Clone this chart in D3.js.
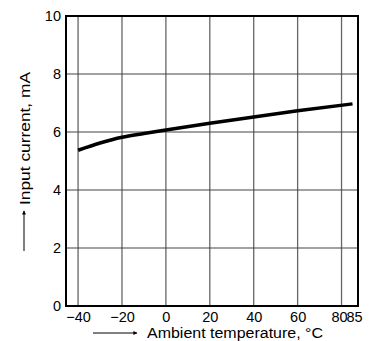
<!DOCTYPE html>
<html>
<head>
<meta charset="utf-8">
<script src="https://cdn.jsdelivr.net/npm/d3@7"></script>
<style>
  body { margin: 0; background: #fff; }
  text { font-family: "Liberation Sans", Arial, sans-serif; }
</style>
</head>
<body>
<div id="vis-container"></div>
<script>
// chart data
const temps = [-40, -30, -20, -10, 0, 20, 40, 60, 85];
const current = [5.37, 5.62, 5.82, 5.95, 6.07, 6.3, 6.52, 6.73, 6.97];
const xTicks = [-40, -20, 0, 20, 40, 60, 80, 85];
const xGrid = [-40, -20, 0, 20, 40, 60, 80];
const yTicks = [0, 2, 4, 6, 8, 10];
const xTitle = "Ambient temperature, °C";
const yTitle = "Input current, mA";

const width = 373;
const height = 341;
const margin = {left: 66, right: 15, top: 16, bottom: 35};

const svg = d3.select("#vis-container")
  .append("svg")
  .attr("width", width)
  .attr("height", height);

const x = d3.scaleLinear()
  .domain([-45.5, 87.5])
  .range([margin.left, width - margin.right]);

const y = d3.scaleLinear()
  .domain([0, 10])
  .range([height - margin.bottom, margin.top]);

// grid lines
svg.append("g")
  .selectAll("line")
  .data(xGrid)
  .join("line")
  .attr("x1", d => x(d)).attr("x2", d => x(d))
  .attr("y1", y(0)).attr("y2", y(10))
  .attr("stroke", "#666")
  .attr("stroke-width", 1.3);

svg.append("g")
  .selectAll("line")
  .data(yTicks.filter(d => d > 0 && d < 10))
  .join("line")
  .attr("x1", x.range()[0]).attr("x2", x.range()[1])
  .attr("y1", d => y(d)).attr("y2", d => y(d))
  .attr("stroke", "#444")
  .attr("stroke-width", 1.1);

// axes (labels only)
const fmt = d => d < 0 ? "\u2212" + Math.abs(d) : String(d);

const gx = svg.append("g")
  .attr("transform", `translate(0,${y(0)})`)
  .call(d3.axisBottom(x).tickValues(xTicks).tickSize(0).tickPadding(6).tickFormat(fmt));
gx.select(".domain").remove();
gx.selectAll("text")
  .attr("font-size", "14.5px")
  .attr("fill", "#000")
  .attr("dx", d => d === 80 ? -2.5 : (d === 85 ? 1.5 : 0));

const gy = svg.append("g")
  .attr("transform", `translate(${x.range()[0]},0)`)
  .call(d3.axisLeft(y).tickValues(yTicks).tickSize(0).tickPadding(5).tickFormat(fmt));
gy.select(".domain").remove();
gy.selectAll("text")
  .attr("font-size", "14.5px")
  .attr("fill", "#000");

// frame
svg.append("rect")
  .attr("x", x.range()[0])
  .attr("y", y(10))
  .attr("width", x.range()[1] - x.range()[0])
  .attr("height", y(0) - y(10))
  .attr("fill", "none")
  .attr("stroke", "#000")
  .attr("stroke-width", 2);

// curve
const pts = temps.map((t, i) => [t, current[i]]);
svg.append("path")
  .datum(pts)
  .attr("fill", "none")
  .attr("stroke", "#000")
  .attr("stroke-width", 3.5)
  .attr("d", d3.line()
    .x(d => x(d[0]))
    .y(d => y(d[1]))
    .curve(d3.curveMonotoneX));

// arrow marker
svg.append("defs").append("marker")
  .attr("id", "arr")
  .attr("viewBox", "0 0 10 10")
  .attr("refX", 9).attr("refY", 5)
  .attr("markerWidth", 6).attr("markerHeight", 4)
  .attr("orient", "auto")
  .append("path")
  .attr("d", "M0,0L10,5L0,10z")
  .attr("fill", "#000");

// x title with arrow
svg.append("line")
  .attr("x1", 93).attr("x2", 137)
  .attr("y1", 333).attr("y2", 333)
  .attr("stroke", "#000")
  .attr("stroke-width", 1)
  .attr("marker-end", "url(#arr)");

svg.append("text")
  .attr("x", 147)
  .attr("y", 338)
  .attr("font-size", "15.5px")
  .attr("textLength", 176)
  .attr("lengthAdjust", "spacingAndGlyphs")
  .text(xTitle);

// y title with arrow
svg.append("line")
  .attr("x1", 24).attr("x2", 24)
  .attr("y1", 251).attr("y2", 211)
  .attr("stroke", "#000")
  .attr("stroke-width", 1)
  .attr("marker-end", "url(#arr)");

svg.append("text")
  .attr("transform", "translate(30,205) rotate(-90)")
  .attr("font-size", "15.5px")
  .attr("textLength", 133)
  .attr("lengthAdjust", "spacingAndGlyphs")
  .text(yTitle);
</script>
</body>
</html>
